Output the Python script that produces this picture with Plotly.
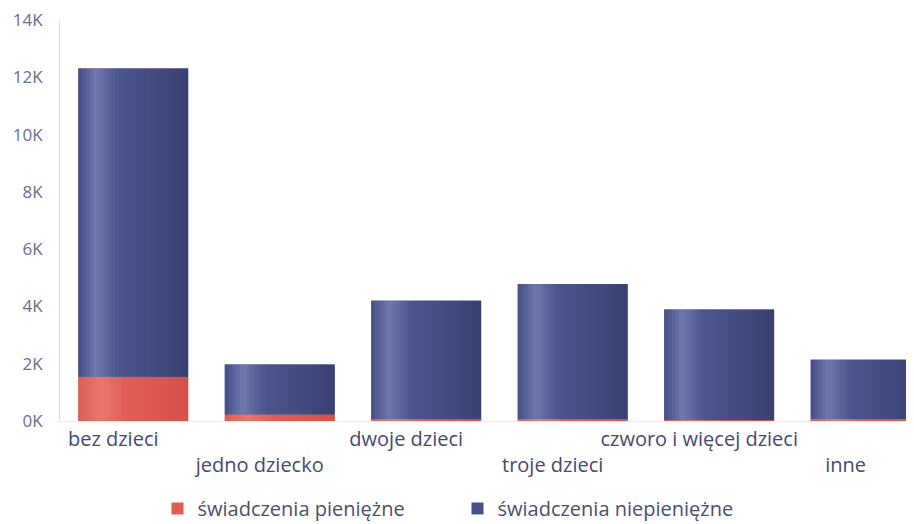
import plotly.graph_objects as go

categories = ["bez dzieci", "jedno dziecko", "dwoje dzieci", "troje dzieci",
              "czworo i więcej dzieci", "inne"]
pieniezne = [1540, 220, 50, 60, 20, 70]
niepieniezne = [10770, 1750, 4150, 4720, 3870, 2070]
y_ticks = [0, 2000, 4000, 6000, 8000, 10000, 12000, 14000]
y_labels = ["0K", "2K", "4K", "6K", "8K", "10K", "12K", "14K"]
series_names = ["świadczenia pieniężne", "świadczenia niepieniężne"]

RED = "#df5d55"
BLUE = "#47508a"
BAR_W = 0.75

# horizontal shading profiles (position across bar, colour) - style only
BLUE_PROFILE = [(0.0, (0x44, 0x4d, 0x86)), (0.16, (0x70, 0x79, 0xad)),
                (0.36, (0x4c, 0x56, 0x8c)), (0.7, (0x43, 0x4c, 0x80)),
                (1.0, (0x39, 0x40, 0x70))]
RED_PROFILE = [(0.0, (0xde, 0x5c, 0x55)), (0.2, (0xea, 0x78, 0x70)),
               (0.45, (0xe0, 0x5e, 0x57)), (1.0, (0xd6, 0x50, 0x4a))]
N_SLICES = 30


def interp(profile, t):
    for (t0, c0), (t1, c1) in zip(profile[:-1], profile[1:]):
        if t0 <= t <= t1:
            f = (t - t0) / (t1 - t0)
            return "rgb(%d,%d,%d)" % tuple(round(a + (b - a) * f) for a, b in zip(c0, c1))
    return "rgb(%d,%d,%d)" % profile[-1][1]


xs = list(range(len(categories)))
tick_text = [("<br>" + c) if i % 2 else c for i, c in enumerate(categories)]

fig = go.Figure()

# main bars (legend entries)
fig.add_trace(go.Bar(x=xs, y=pieniezne, name=series_names[0], width=BAR_W,
                     marker=dict(color=RED, line=dict(width=0))))
fig.add_trace(go.Bar(x=xs, y=niepieniezne, base=pieniezne, name=series_names[1],
                     width=BAR_W, marker=dict(color=BLUE, line=dict(width=0))))

# shading slices
sw = BAR_W / N_SLICES
for k in range(N_SLICES):
    t = (k + 0.5) / N_SLICES
    off = -BAR_W / 2 + k * sw
    w = sw + (0.003 if k < N_SLICES - 1 else 0)
    fig.add_trace(go.Bar(x=xs, y=niepieniezne, base=pieniezne, width=w, offset=off,
                         marker=dict(color=interp(BLUE_PROFILE, t), line=dict(width=0)),
                         showlegend=False, hoverinfo="skip"))
    fig.add_trace(go.Bar(x=xs, y=pieniezne, width=w, offset=off,
                         marker=dict(color=interp(RED_PROFILE, t), line=dict(width=0)),
                         showlegend=False, hoverinfo="skip"))

fig.update_layout(
    barmode="overlay",
    width=906, height=516,
    margin=dict(l=52, r=0, t=12, b=103),
    paper_bgcolor="white", plot_bgcolor="white",
    font=dict(family="Open Sans", color="#454a72"),
    showlegend=True,
    legend=dict(orientation="h", xref="container", yref="container",
                x=0.165, xanchor="left", y=0.068, yanchor="top",
                font=dict(size=20, color="#4a4f70"),
                entrywidth=255, entrywidthmode="pixels",
                traceorder="normal"),
    xaxis=dict(range=[-0.5, 5.33], tickvals=xs, ticktext=tick_text,
               showgrid=False, zeroline=False, showline=True,
               linecolor="#eceef5", linewidth=1, ticks="",
               tickfont=dict(size=20, color="#454a72"),
               ticklabelshift=-20, tickangle=0),
    yaxis=dict(range=[0, 14000], tickvals=y_ticks, ticktext=y_labels,
               showgrid=False, zeroline=False, showline=True,
               linecolor="#d8dbe8", linewidth=1, ticks="",
               tickfont=dict(size=17, color="#6a6e90"),
               ticklabelstandoff=13, ticklabeloverflow="allow"),
)

fig.write_html("out.html")
